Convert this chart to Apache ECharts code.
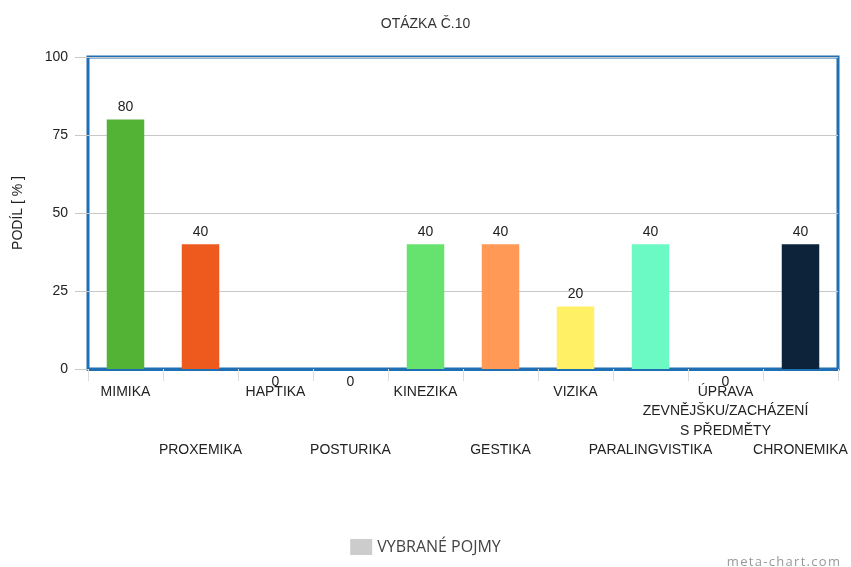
<!doctype html>
<html>
<head>
<meta charset="utf-8">
<title>OTÁZKA Č.10</title>
<style>
  html, body { margin: 0; padding: 0; background: #fff; }
  #main { width: 851px; height: 567px; }
</style>
</head>
<body>
<div id="main"></div>
<script src="https://cdn.jsdelivr.net/npm/echarts@6/dist/echarts.min.js"></script>
<script>
var categories = ['MIMIKA', 'PROXEMIKA', 'HAPTIKA', 'POSTURIKA', 'KINEZIKA', 'GESTIKA', 'VIZIKA',
  'PARALINGVISTIKA', 'ÚPRAVA\nZEVNĚJŠKU/ZACHÁZENÍ\nS PŘEDMĚTY', 'CHRONEMIKA'];
var values = [80, 40, 0, 0, 40, 40, 20, 40, 0, 40];
var barColors = ['#52b334', '#ee5a1e', '#2f7ed8', '#8bbc21', '#66e36e', '#ff9955', '#fff066',
  '#6cfac4', '#910000', '#0d233a'];
var yTicks = [0, 25, 50, 75, 100];

var myChart = echarts.init(document.getElementById('main'));
var font = '"Liberation Sans", Arial, sans-serif';

// nuly maji popisek pod osou, ostatni nad sloupcem
var data = values.map(function (v, i) {
  var item = { value: v, itemStyle: { color: barColors[i] } };
  if (v === 0) item.label = { position: 'bottom', distance: 6 };
  return item;
});

var option = {
  animation: false,
  title: {
    text: 'OTÁZKA Č.10',
    left: 'center',
    top: 12,
    textStyle: { fontFamily: font, fontSize: 14, fontWeight: 'normal', color: '#333' }
  },
  legend: {
    bottom: 7,
    left: 'center',
    icon: 'rect',
    itemWidth: 22,
    itemHeight: 16,
    itemGap: 8,
    textStyle: { fontFamily: '"Open Sans", sans-serif', fontSize: 16, color: '#444' },
    data: ['VYBRANÉ POJMY']
  },
  grid: {
    left: 88, right: 13, top: 57, bottom: 198,
    show: true, borderColor: '#1f6fb5', borderWidth: 3
  },
  xAxis: {
    type: 'category',
    data: categories,
    axisLine: { lineStyle: { color: '#1f6fb5', width: 3 } },
    axisTick: { show: true, length: 12, lineStyle: { color: '#ddd' } },
    axisLabel: {
      interval: 0,
      margin: 13,
      fontFamily: font,
      fontSize: 14,
      color: '#222',
      lineHeight: 19.5,
      formatter: function (val, idx) {
        return idx % 2 === 1 ? '\n\n\n' + val : val;
      }
    }
  },
  yAxis: {
    type: 'value',
    min: yTicks[0],
    max: yTicks[yTicks.length - 1],
    interval: 25,
    name: 'PODÍL [ % ]',
    nameLocation: 'middle',
    nameGap: 63,
    nameRotate: 90,
    nameTextStyle: { fontFamily: font, fontSize: 14, color: '#222' },
    axisLine: { show: false },
    axisTick: { show: true, length: 13, lineStyle: { color: '#c8c8c8' } },
    splitLine: { lineStyle: { color: '#c8c8c8' } },
    axisLabel: { fontFamily: font, fontSize: 14, color: '#222', margin: 20 }
  },
  graphic: [{
    type: 'text',
    right: 11,
    bottom: -2,
    style: {
      text: 'm e t a - c h a r t . c o m'.replace(/ /g, '\u200a'),
      fill: '#999',
      font: '13px "Open Sans", sans-serif'
    }
  }],
  series: [{
    name: 'VYBRANÉ POJMY',
    type: 'bar',
    barWidth: '50%',
    itemStyle: { color: '#cccccc' },
    label: {
      show: true,
      position: 'top',
      distance: 5,
      fontFamily: font,
      fontSize: 14,
      color: '#222'
    },
    data: data
  }]
};
myChart.setOption(option);
</script>
</body>
</html>
